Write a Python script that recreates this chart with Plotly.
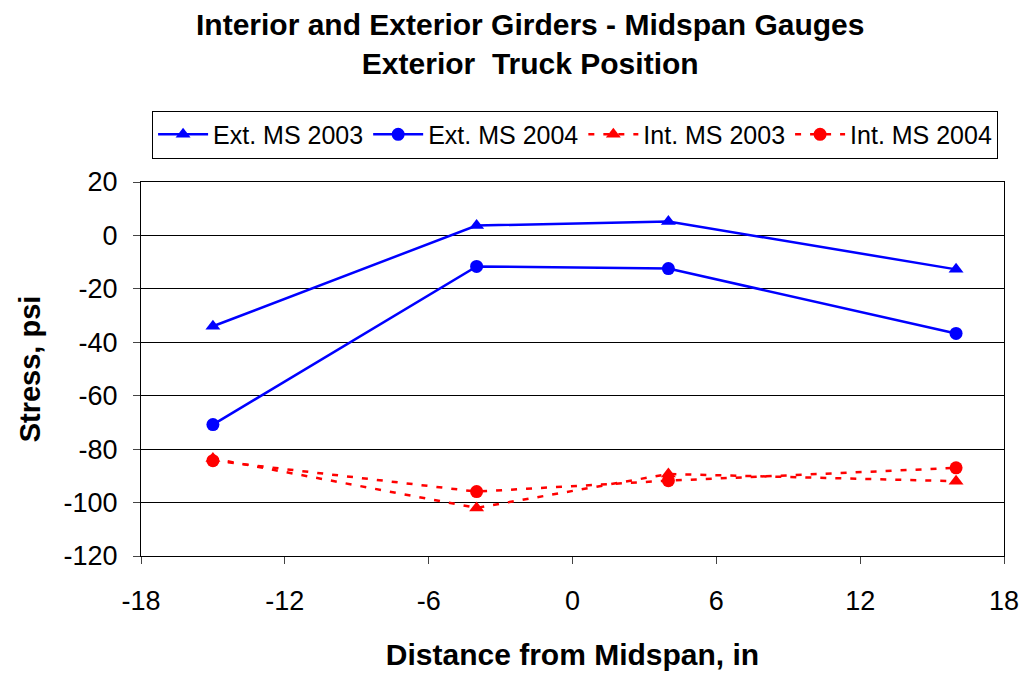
import plotly.graph_objects as go

# ─── Data ────────────────────────────────────────────────────────────────────
distance = [-15, -4, 4, 16]

ext_ms_2003 = [-34, 3.7, 5.2, -12.7]
ext_ms_2004 = [-70.8, -11.6, -12.4, -36.7]
int_ms_2003 = [-83.5, -102, -89.3, -92]
int_ms_2004 = [-84.3, -95.9, -91.8, -87]

x_ticks = [-18, -12, -6, 0, 6, 12, 18]
x_labels = ["-18", "-12", "-6", "0", "6", "12", "18"]
y_ticks = [20, 0, -20, -40, -60, -80, -100, -120]
y_labels = ["20", "0", "-20", "-40", "-60", "-80", "-100", "-120"]

FONT = "Liberation Sans, Arial, sans-serif"

series = [
    ("Ext. MS 2003", ext_ms_2003, "#0000ff", "solid", "triangle-up"),
    ("Ext. MS 2004", ext_ms_2004, "#0000ff", "solid", "circle"),
    ("Int. MS 2003", int_ms_2003, "#ff0000", "6px,9px", "triangle-up"),
    ("Int. MS 2004", int_ms_2004, "#ff0000", "6px,9px", "circle"),
]

fig = go.Figure()
for name, vals, color, dash, symbol in series:
    fig.add_trace(go.Scatter(
        x=distance, y=vals, name=name, mode="lines+markers",
        line=dict(color=color, width=2.5, dash=dash),
        marker=dict(symbol=symbol, size=13, color=color),
    ))

fig.update_layout(
    width=1029, height=673,
    paper_bgcolor="white", plot_bgcolor="white",
    font=dict(family=FONT, size=26, color="black"),
    margin=dict(l=133, r=33, t=174, b=125),
    legend=dict(
        orientation="h", x=0.503, xanchor="center", y=1.191, yanchor="top",
        bordercolor="black", borderwidth=1, font=dict(size=25),
        itemwidth=50, tracegroupgap=0,
    ),
    showlegend=True,
)

# two-line chart title, placed as an annotation so it stays inside the page
fig.add_annotation(
    text="<b>Interior and Exterior Girders - Midspan Gauges<br>Exterior  Truck Position</b>",
    xref="paper", yref="paper", x=0.4508, y=1.369,
    xanchor="center", yanchor="middle", showarrow=False,
    font=dict(size=30), align="center",
)

fig.update_xaxes(
    range=[-18, 18], tickvals=x_ticks, ticktext=x_labels,
    ticks="outside", ticklen=7, ticklabelstandoff=14,
    showgrid=False, zeroline=False, showline=True, linecolor="black",
    linewidth=1, mirror=True, tickfont=dict(size=27),
    title=dict(text="<b>Distance from Midspan, in</b>", font=dict(size=30), standoff=28),
)
fig.update_yaxes(
    range=[-120, 20], tickvals=y_ticks, ticktext=y_labels,
    ticks="outside", ticklen=7, ticklabelstandoff=10,
    showgrid=True, gridcolor="black", gridwidth=1, zeroline=False,
    showline=True, linecolor="black", linewidth=1, mirror=True,
    tickfont=dict(size=27),
    title=dict(text="<b>Stress, psi</b>", font=dict(size=29), standoff=14),
)

fig.write_html("out.html")
